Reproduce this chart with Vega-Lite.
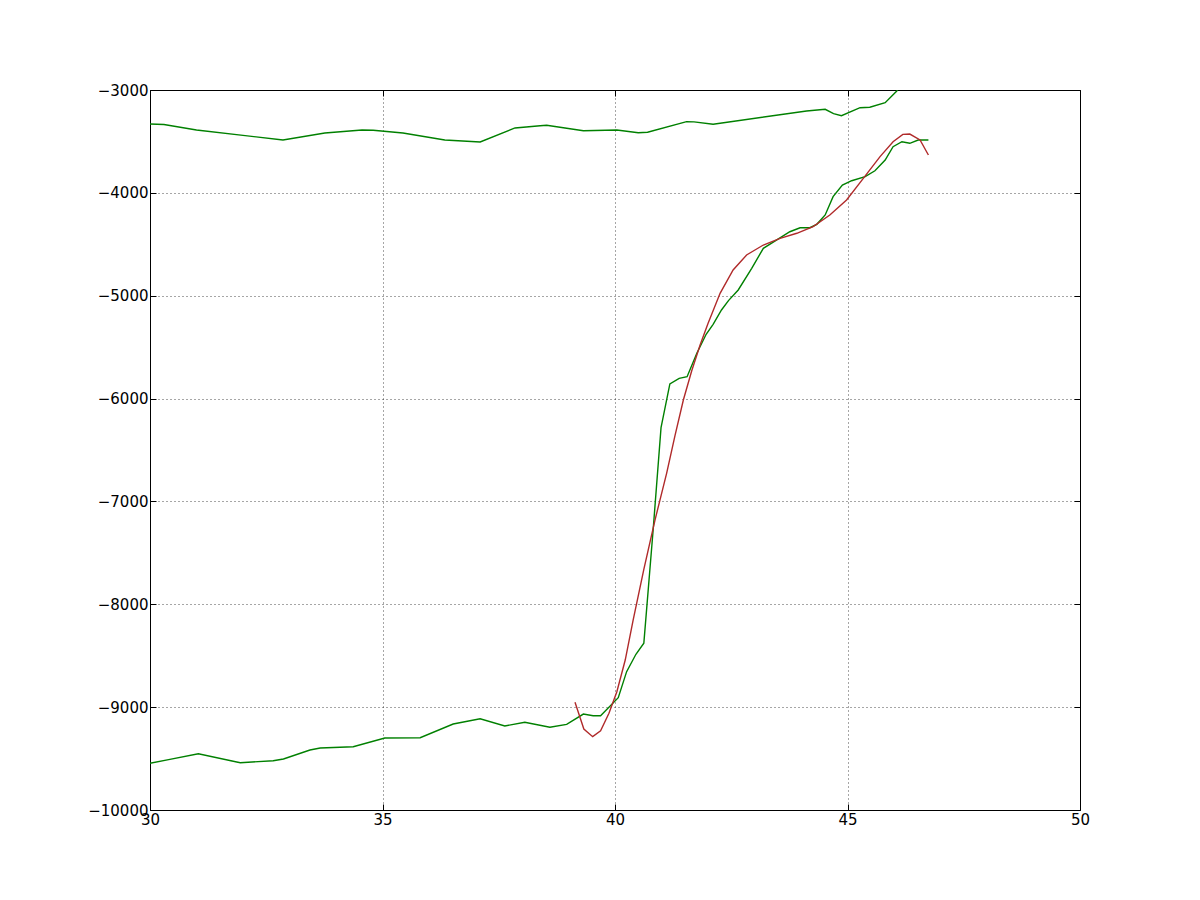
{
  "$schema": "https://vega.github.io/schema/vega-lite/v6.json",
  "width": 930,
  "height": 720,
  "autosize": "none",
  "padding": {"left": 150, "top": 90, "right": 120, "bottom": 90},
  "background": "white",
  "config": {
    "view": {"stroke": "black", "strokeWidth": 1},
    "axis": {
      "domain": false,
      "labelFont": "DejaVu Sans",
      "labelFontSize": 15,
      "labelColor": "black",
      "labelFlush": false,
      "labelOverlap": false,
      "tickColor": "black",
      "tickSize": -6,
      "tickWidth": 1,
      "labelPadding": 8,
      "gridColor": "black",
      "gridOpacity": 1,
      "gridWidth": 0.7,
      "gridDash": [1, 3],
      "title": null
    }
  },
  "data": {
    "values": [
      {"s": "upper", "x": 30.0, "y": -3331},
      {"s": "upper", "x": 30.3, "y": -3335},
      {"s": "upper", "x": 31.0, "y": -3389},
      {"s": "upper", "x": 32.0, "y": -3441},
      {"s": "upper", "x": 32.86, "y": -3486},
      {"s": "upper", "x": 33.76, "y": -3418},
      {"s": "upper", "x": 34.56, "y": -3389},
      {"s": "upper", "x": 34.8, "y": -3392},
      {"s": "upper", "x": 35.44, "y": -3418},
      {"s": "upper", "x": 36.34, "y": -3486},
      {"s": "upper", "x": 37.1, "y": -3505},
      {"s": "upper", "x": 37.85, "y": -3369},
      {"s": "upper", "x": 38.39, "y": -3347},
      {"s": "upper", "x": 38.53, "y": -3343},
      {"s": "upper", "x": 39.32, "y": -3396},
      {"s": "upper", "x": 40.04, "y": -3389},
      {"s": "upper", "x": 40.5, "y": -3415},
      {"s": "upper", "x": 40.7, "y": -3411},
      {"s": "upper", "x": 41.54, "y": -3308},
      {"s": "upper", "x": 41.7, "y": -3310},
      {"s": "upper", "x": 42.11, "y": -3333},
      {"s": "upper", "x": 44.12, "y": -3204},
      {"s": "upper", "x": 44.52, "y": -3188},
      {"s": "upper", "x": 44.7, "y": -3230},
      {"s": "upper", "x": 44.87, "y": -3250},
      {"s": "upper", "x": 45.27, "y": -3172},
      {"s": "upper", "x": 45.48, "y": -3168},
      {"s": "upper", "x": 45.81, "y": -3123},
      {"s": "upper", "x": 46.06, "y": -3010},
      {"s": "upper", "x": 46.3, "y": -2820},

      {"s": "lower", "x": 30.0, "y": -9545},
      {"s": "lower", "x": 30.4, "y": -9510},
      {"s": "lower", "x": 31.04, "y": -9453},
      {"s": "lower", "x": 31.94, "y": -9540},
      {"s": "lower", "x": 32.65, "y": -9521},
      {"s": "lower", "x": 32.87, "y": -9504},
      {"s": "lower", "x": 33.44, "y": -9417},
      {"s": "lower", "x": 33.66, "y": -9397},
      {"s": "lower", "x": 34.37, "y": -9385},
      {"s": "lower", "x": 35.05, "y": -9300},
      {"s": "lower", "x": 35.81, "y": -9297},
      {"s": "lower", "x": 36.52, "y": -9164},
      {"s": "lower", "x": 37.1, "y": -9113},
      {"s": "lower", "x": 37.63, "y": -9183},
      {"s": "lower", "x": 38.06, "y": -9147},
      {"s": "lower", "x": 38.6, "y": -9196},
      {"s": "lower", "x": 38.96, "y": -9167},
      {"s": "lower", "x": 39.32, "y": -9067},
      {"s": "lower", "x": 39.53, "y": -9083},
      {"s": "lower", "x": 39.69, "y": -9083},
      {"s": "lower", "x": 40.07, "y": -8908},
      {"s": "lower", "x": 40.25, "y": -8655},
      {"s": "lower", "x": 40.45, "y": -8486},
      {"s": "lower", "x": 40.62, "y": -8379},
      {"s": "lower", "x": 40.82, "y": -7278},
      {"s": "lower", "x": 40.99, "y": -6283},
      {"s": "lower", "x": 41.18, "y": -5858},
      {"s": "lower", "x": 41.38, "y": -5803},
      {"s": "lower", "x": 41.55, "y": -5787},
      {"s": "lower", "x": 41.76, "y": -5560},
      {"s": "lower", "x": 41.96, "y": -5375},
      {"s": "lower", "x": 42.11, "y": -5278},
      {"s": "lower", "x": 42.29, "y": -5139},
      {"s": "lower", "x": 42.44, "y": -5048},
      {"s": "lower", "x": 42.65, "y": -4944},
      {"s": "lower", "x": 42.94, "y": -4734},
      {"s": "lower", "x": 43.19, "y": -4539},
      {"s": "lower", "x": 43.48, "y": -4458},
      {"s": "lower", "x": 43.76, "y": -4378},
      {"s": "lower", "x": 43.98, "y": -4339},
      {"s": "lower", "x": 44.19, "y": -4339},
      {"s": "lower", "x": 44.34, "y": -4306},
      {"s": "lower", "x": 44.52, "y": -4215},
      {"s": "lower", "x": 44.69, "y": -4037},
      {"s": "lower", "x": 44.89, "y": -3924},
      {"s": "lower", "x": 45.09, "y": -3882},
      {"s": "lower", "x": 45.38, "y": -3843},
      {"s": "lower", "x": 45.59, "y": -3785},
      {"s": "lower", "x": 45.81, "y": -3681},
      {"s": "lower", "x": 45.98, "y": -3551},
      {"s": "lower", "x": 46.17, "y": -3503},
      {"s": "lower", "x": 46.34, "y": -3518},
      {"s": "lower", "x": 46.52, "y": -3486},
      {"s": "lower", "x": 46.74, "y": -3486},

      {"s": "fit", "x": 39.14, "y": -8953},
      {"s": "fit", "x": 39.33, "y": -9213},
      {"s": "fit", "x": 39.52, "y": -9287},
      {"s": "fit", "x": 39.69, "y": -9229},
      {"s": "fit", "x": 39.87, "y": -9060},
      {"s": "fit", "x": 40.04, "y": -8850},
      {"s": "fit", "x": 40.22, "y": -8542},
      {"s": "fit", "x": 40.39, "y": -8153},
      {"s": "fit", "x": 40.62, "y": -7660},
      {"s": "fit", "x": 40.86, "y": -7181},
      {"s": "fit", "x": 41.11, "y": -6727},
      {"s": "fit", "x": 41.29, "y": -6360},
      {"s": "fit", "x": 41.47, "y": -6014},
      {"s": "fit", "x": 41.65, "y": -5730},
      {"s": "fit", "x": 41.83, "y": -5480},
      {"s": "fit", "x": 42.0, "y": -5270},
      {"s": "fit", "x": 42.26, "y": -4977},
      {"s": "fit", "x": 42.54, "y": -4750},
      {"s": "fit", "x": 42.83, "y": -4604},
      {"s": "fit", "x": 43.19, "y": -4507},
      {"s": "fit", "x": 43.55, "y": -4442},
      {"s": "fit", "x": 43.91, "y": -4393},
      {"s": "fit", "x": 44.26, "y": -4329},
      {"s": "fit", "x": 44.62, "y": -4215},
      {"s": "fit", "x": 44.98, "y": -4069},
      {"s": "fit", "x": 45.34, "y": -3859},
      {"s": "fit", "x": 45.7, "y": -3648},
      {"s": "fit", "x": 45.98, "y": -3503},
      {"s": "fit", "x": 46.19, "y": -3431},
      {"s": "fit", "x": 46.34, "y": -3428},
      {"s": "fit", "x": 46.56, "y": -3486},
      {"s": "fit", "x": 46.74, "y": -3632}
    ]
  },
  "layer": [
    {
      "mark": {"type": "line", "strokeWidth": 1.4, "clip": true},
      "encoding": {
        "x": {
          "field": "x", "type": "quantitative",
          "scale": {"domain": [30, 50], "nice": false, "zero": false},
          "axis": {"orient": "bottom", "values": [30, 35, 40, 45, 50], "grid": true, "format": "d"}
        },
        "y": {
          "field": "y", "type": "quantitative",
          "scale": {"domain": [-10000, -3000], "nice": false, "zero": false},
          "axis": {"orient": "left", "values": [-10000, -9000, -8000, -7000, -6000, -5000, -4000, -3000], "grid": true, "format": "d"}
        },
        "color": {
          "field": "s", "type": "nominal",
          "scale": {"domain": ["upper", "lower", "fit"], "range": ["#008000", "#008000", "#b02a2a"]},
          "legend": null
        },
        "order": {"field": "x", "type": "quantitative"}
      }
    },
    {
      "mark": {"type": "line", "opacity": 0, "clip": true},
      "encoding": {
        "x": {
          "field": "x", "type": "quantitative",
          "scale": {"domain": [30, 50], "nice": false, "zero": false},
          "axis": {"orient": "top", "values": [30, 35, 40, 45, 50], "grid": false, "labels": false}
        },
        "y": {
          "field": "y", "type": "quantitative",
          "scale": {"domain": [-10000, -3000], "nice": false, "zero": false},
          "axis": {"orient": "right", "values": [-10000, -9000, -8000, -7000, -6000, -5000, -4000, -3000], "grid": false, "labels": false}
        },
        "detail": {"field": "s", "type": "nominal"}
      }
    }
  ],
  "resolve": {"axis": {"x": "independent", "y": "independent"}}
}
